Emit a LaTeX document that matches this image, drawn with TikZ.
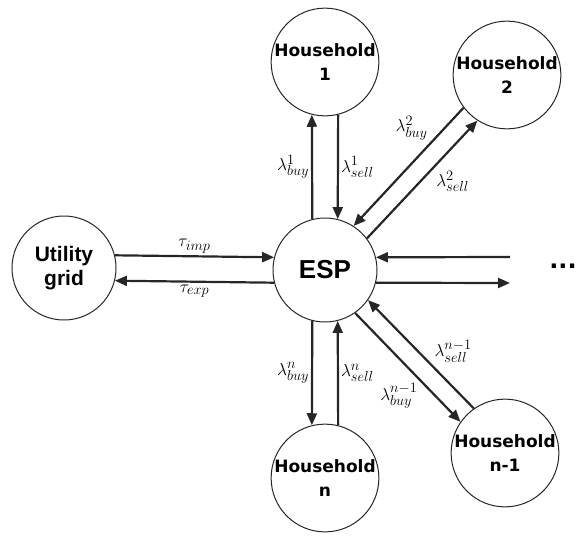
\documentclass[tikz,border=0pt]{standalone}
\usepackage{fontspec}
\setmainfont{DejaVu Sans}
\newfontfamily\gridfont{Liberation Sans}
\usetikzlibrary{arrows.meta}

\begin{document}
\begin{tikzpicture}[x=1pt, y=-1pt,
  agent/.style={draw=black!85, circle, line width=1pt, minimum size=104pt,
                inner sep=0pt, align=center,
                font=\fontsize{17}{24}\selectfont\bfseries},
  flow/.style={line width=2.2pt, draw=black!85,
               -{Triangle[length=12pt,width=10pt]}},
  rate/.style={font=\fontsize{19}{21}\selectfont, inner sep=2pt},
]
\useasboundingbox (0,0) rectangle (580,535);
% agents
\node[agent, font=\gridfont\fontsize{21}{24}\selectfont\bfseries] (grid) at (64,268) {Utility\\grid};
\node[agent, font=\gridfont\fontsize{26}{28}\selectfont\bfseries] (esp)  at (325,270) {ESP};
\node[agent] (hh1) at (325,62)  {Household\\1};
\node[agent] (hh2) at (507,75)  {Household\\2};
\node[agent] (hhn) at (325,478) {Household\\n};
\node[agent] (hhm) at (505,453) {Household\\n-1};
\coordinate (rin)  at (510,257);
\coordinate (rout) at (510,283);
\node[font=\fontsize{24}{26}\selectfont\bfseries, anchor=base] (dots) at (563,268) {...};
% grid <-> ESP
\draw[flow] (grid.14)  -- (esp.166) node[rate, midway, above] {$\tau_{imp}$};
\draw[flow] (esp.194)  -- (grid.346) node[rate, midway, below] {$\tau_{exp}$};
% household 1
\draw[flow] (esp.104)  -- (hh1.256) node[rate, midway, left]  {$\lambda^1_{buy}$};
\draw[flow] (hh1.284)  -- (esp.76)  node[rate, midway, right] {$\lambda^1_{sell}$};
% household 2
\draw[flow] (hh2.217)  -- (esp.57)  node[rate, pos=0.3, above left]  {$\lambda^2_{buy}$};
\draw[flow] (esp.37)   -- (hh2.237) node[rate, pos=0.6, below right] {$\lambda^2_{sell}$};
% further households
\draw[flow] (rin)      -- (esp.14);
\draw[flow] (esp.-14)  -- (rout);
% household n-1
\draw[flow] (esp.-55)  -- (hhm.145) node[rate, pos=0.62, below left]  {$\lambda^{n-1}_{buy}$};
\draw[flow] (hhm.125)  -- (esp.-35) node[rate, pos=0.4, above right] {$\lambda^{n-1}_{sell}$};
% household n
\draw[flow] (esp.256)  -- (hhn.104) node[rate, midway, left]  {$\lambda^n_{buy}$};
\draw[flow] (hhn.76)   -- (esp.284) node[rate, midway, right] {$\lambda^n_{sell}$};
\end{tikzpicture}
\end{document}
